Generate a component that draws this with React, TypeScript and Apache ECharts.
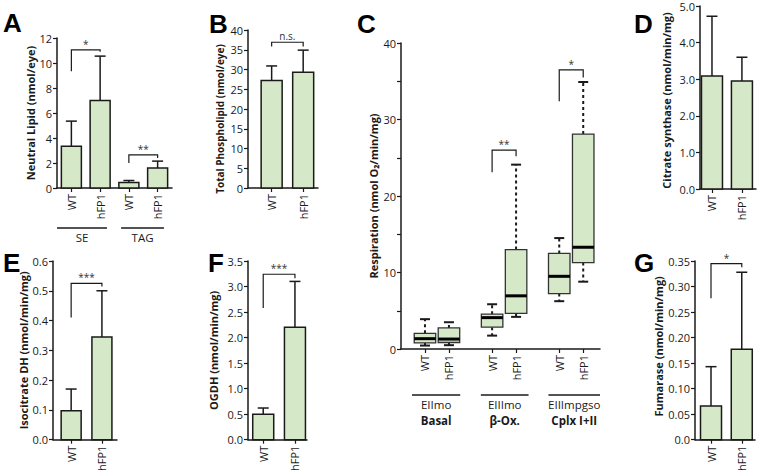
import React, { useEffect, useRef } from 'react';
import * as echarts from 'echarts';

const FONT = "'Open Sans', sans-serif";
const GREEN = '#d5e8c8';
const INK = '#1a1a1a';

// ---------- Panel A : Neutral lipid ----------
const aLabels = ['WT', 'hFP1', 'WT', 'hFP1'];
const aPos = [1, 2, 3, 4];
const aMean = [3.35, 7.0, 0.45, 1.6];
const aUpper = [5.35, 10.55, 0.6, 2.15];
const aGroupNames = ['SE', 'TAG'];
const aGroupSpans = [[0.5, 2.24], [2.73, 4.22]];
const aBrackets = [[1, 2, 11.05, 9.35, 10.9], [3, 4, 2.65, 2.0, 2.4]];
const aStars = ['*', '**'];

// ---------- Panel B : Total phospholipid ----------
const bLabels = ['WT', 'hFP1'];
const bPos = [1, 2];
const bMean = [27.2, 29.3];
const bUpper = [30.9, 34.9];
const bBrackets = [[1, 2, 36.9, 35.8, 35.8]];
const bStars = ['n.s.'];

// ---------- Panel C : Respiration (box plots) ----------
const cLabels = ['WT', 'hFP1', 'WT', 'hFP1', 'WT', 'hFP1'];
const cPos = [1, 2, 3.8, 4.8, 6.6, 7.6];
const cMin = [0.45, 0.5, 1.75, 4.2, 6.25, 8.8];
const cQ1 = [0.8, 0.85, 2.85, 4.65, 7.25, 11.3];
const cMed = [1.35, 1.3, 4.1, 6.95, 9.5, 13.3];
const cQ3 = [2.05, 2.75, 4.55, 13.0, 12.5, 28.1];
const cMax = [3.9, 3.5, 5.85, 24.1, 14.5, 34.9];
const cGroupLine1 = ['EIImo', 'EIIImo', 'EIIImpgso'];
const cGroupLine2 = ['Basal', 'β-Ox.', 'Cplx I+II'];
const cGroupSpans = [[0.46, 2.47], [3.33, 5.32], [6.15, 8.3]];
const cBrackets = [[3.8, 4.8, 26.0, 23.1, 25.2], [6.6, 7.6, 36.5, 32.4, 35.5]];
const cStars = ['**', '*'];

// ---------- Panel D : Citrate synthase ----------
const dLabels = ['WT', 'hFP1'];
const dPos = [1, 2];
const dMean = [3.09, 2.95];
const dUpper = [4.72, 3.6];

// ---------- Panel E : Isocitrate DH ----------
const eLabels = ['WT', 'hFP1'];
const ePos = [1, 2];
const eMean = [0.097, 0.345];
const eUpper = [0.17, 0.5];
const eBrackets = [[1, 2, 0.525, 0.41, 0.514]];
const eStars = ['***'];

// ---------- Panel F : OGDH ----------
const fLabels = ['WT', 'hFP1'];
const fPos = [1, 2];
const fMean = [0.5, 2.2];
const fUpper = [0.62, 3.1];
const fBrackets = [[1, 2, 3.24, 2.58, 3.16]];
const fStars = ['***'];

// ---------- Panel G : Fumarase ----------
const gLabels = ['WT', 'hFP1'];
const gPos = [1, 2];
const gMean = [0.066, 0.177];
const gUpper = [0.143, 0.328];
const gBrackets = [[1, 2, 0.345, 0.277, 0.338]];
const gStars = ['*'];

type PanelCfg = {
  grid: { left: number; top: number; width: number; height: number };
  xMin: number; xMax: number; pos: number[]; labels: string[];
  yMax: number; yInterval: number; yFmt: (v: number) => string;
  name: string; nameGap: number; nameSize: number; namePad: number[];
};

const panels: PanelCfg[] = [
  { grid: { left: 57, top: 38, width: 115, height: 150 }, xMin: 0.5, xMax: 4.5, pos: aPos, labels: aLabels,
    yMax: 12, yInterval: 2, yFmt: (v) => String(v), name: 'Neutral Lipid (nmol/eye)', nameGap: 20, nameSize: 11, namePad: [0, 0, 0, 0] },
  { grid: { left: 248, top: 30, width: 70, height: 158 }, xMin: 0.25, xMax: 2.47, pos: bPos, labels: bLabels,
    yMax: 40, yInterval: 5, yFmt: (v) => String(v), name: 'Total Phospholipid (nmol/eye)', nameGap: 23, nameSize: 10, namePad: [0, 20, 0, 0] },
  { grid: { left: 401, top: 43, width: 199, height: 306 }, xMin: 0, xMax: 8.3, pos: cPos, labels: cLabels,
    yMax: 40, yInterval: 5, yFmt: (v) => (v % 10 === 0 ? String(v) : ''), name: 'Respiration (nmol O₂/min/mg)', nameGap: 22, nameSize: 11, namePad: [0, 0, 0, 0] },
  { grid: { left: 700, top: 6, width: 56, height: 183 }, xMin: 0.6, xMax: 2.47, pos: dPos, labels: dLabels,
    yMax: 5, yInterval: 1, yFmt: (v) => v.toFixed(1), name: 'Citrate synthase (nmol/min/mg)', nameGap: 28, nameSize: 11, namePad: [0, 6, 0, 0] },
  { grid: { left: 53, top: 261, width: 64, height: 181 }, xMin: 0.41, xMax: 2.49, pos: ePos, labels: eLabels,
    yMax: 0.6, yInterval: 0.1, yFmt: (v) => v.toFixed(1), name: 'Isocitrate DH (nmol/min/mg)', nameGap: 21, nameSize: 11, namePad: [0, 0, 0, 0] },
  { grid: { left: 248, top: 261, width: 59, height: 181 }, xMin: 0.52, xMax: 2.38, pos: fPos, labels: fLabels,
    yMax: 3.5, yInterval: 0.5, yFmt: (v) => v.toFixed(1), name: 'OGDH (nmol/min/mg)', nameGap: 29, nameSize: 11, namePad: [0, 0, 0, 0] },
  { grid: { left: 695, top: 261, width: 60, height: 181 }, xMin: 0.48, xMax: 2.43, pos: gPos, labels: gLabels,
    yMax: 0.35, yInterval: 0.05, yFmt: (v) => (Math.abs(v) < 1e-9 ? '0.0' : v.toFixed(2)), name: 'Fumarase (nmol/min/mg)', nameGap: 28, nameSize: 11, namePad: [0, 0, 0, 8] },
];

const barSets = [
  { idx: 0, pos: aPos, mean: aMean, upper: aUpper, w: 20 },
  { idx: 1, pos: bPos, mean: bMean, upper: bUpper, w: 21 },
  { idx: 3, pos: dPos, mean: dMean, upper: dUpper, w: 21 },
  { idx: 4, pos: ePos, mean: eMean, upper: eUpper, w: 20 },
  { idx: 5, pos: fPos, mean: fMean, upper: fUpper, w: 21 },
  { idx: 6, pos: gPos, mean: gMean, upper: gUpper, w: 21 },
];

const bracketSets = [
  { idx: 0, data: aBrackets, text: aStars },
  { idx: 1, data: bBrackets, text: bStars },
  { idx: 2, data: cBrackets, text: cStars },
  { idx: 4, data: eBrackets, text: eStars },
  { idx: 5, data: fBrackets, text: fStars },
  { idx: 6, data: gBrackets, text: gStars },
];

const letters = [
  { t: 'A', x: 3, y: 23 }, { t: 'B', x: 209, y: 24 }, { t: 'C', x: 357, y: 24 }, { t: 'D', x: 634, y: 23.5 },
  { t: 'E', x: 3, y: 262.5 }, { t: 'F', x: 208, y: 263 }, { t: 'G', x: 634, y: 262.5 },
];

function buildOption() {
  const lineStyle = { color: INK, width: 1.5 };
  const grid = panels.map((p) => ({ ...p.grid, containLabel: false }));
  const xAxis = panels.map((p, i) => ({
    type: 'value', gridIndex: i, min: p.xMin, max: p.xMax,
    axisLine: { show: true, onZero: false, lineStyle },
    axisTick: { show: true, customValues: p.pos, length: 4, lineStyle: { color: INK, width: 1.2 } },
    axisLabel: {
      show: true, customValues: p.pos, rotate: 90, margin: 6, fontFamily: FONT, fontSize: 11, color: INK,
      formatter: (v: number) => {
        const k = p.pos.findIndex((q) => Math.abs(q - v) < 1e-6);
        return k >= 0 ? p.labels[k] : '';
      },
    },
    splitLine: { show: false },
  }));
  const yAxis = panels.map((p, i) => ({
    type: 'value', gridIndex: i, min: 0, max: p.yMax, interval: p.yInterval,
    axisLine: { show: true, lineStyle },
    axisTick: { show: true, length: 4, lineStyle: { color: INK, width: 1.2 } },
    axisLabel: { fontFamily: FONT, fontSize: 11, color: INK, margin: 5, formatter: p.yFmt },
    splitLine: { show: false },
    name: p.name, nameLocation: 'middle', nameGap: p.nameGap,
    nameTextStyle: { fontFamily: FONT, fontWeight: 'bold', fontSize: p.nameSize, color: INK, padding: p.namePad },
  }));

  const series: any[] = [];
  // Bars with error bars (mean + upper SD)
  barSets.forEach((b) => {
    series.push({
      type: 'custom', xAxisIndex: b.idx, yAxisIndex: b.idx, clip: false, z: 3,
      data: b.pos.map((x, i) => [x, b.mean[i], b.upper[i]]),
      renderItem: (params: any, api: any) => {
        const x = api.value(0);
        const base = api.coord([x, 0]);
        const top = api.coord([x, api.value(1)]);
        const up = api.coord([x, api.value(2)]);
        const hw = b.w / 2;
        return {
          type: 'group', children: [
            { type: 'line', shape: { x1: top[0], y1: top[1], x2: up[0], y2: up[1] }, style: { stroke: INK, lineWidth: 1.5 } },
            { type: 'line', shape: { x1: up[0] - 5.5, y1: up[1], x2: up[0] + 5.5, y2: up[1] }, style: { stroke: INK, lineWidth: 1.5 } },
            { type: 'rect', shape: { x: base[0] - hw, y: top[1], width: b.w, height: base[1] - top[1] },
              style: { fill: GREEN, stroke: INK, lineWidth: 1.5 } },
          ],
        };
      },
    });
  });

  // Box plots (panel C)
  series.push({
    type: 'custom', xAxisIndex: 2, yAxisIndex: 2, clip: false, z: 3,
    data: cPos.map((x, i) => [x, cMin[i], cQ1[i], cMed[i], cQ3[i], cMax[i]]),
    renderItem: (params: any, api: any) => {
      const x = api.value(0);
      const pMin = api.coord([x, api.value(1)]);
      const pQ1 = api.coord([x, api.value(2)]);
      const pMed = api.coord([x, api.value(3)]);
      const pQ3 = api.coord([x, api.value(4)]);
      const pMax = api.coord([x, api.value(5)]);
      const hw = 10.75;
      const cx = pQ1[0];
      const dash = { stroke: INK, lineWidth: 2, lineDash: [3, 3] };
      return {
        type: 'group', children: [
          { type: 'line', shape: { x1: cx, y1: pQ3[1], x2: cx, y2: pMax[1] }, style: dash },
          { type: 'line', shape: { x1: cx, y1: pQ1[1], x2: cx, y2: pMin[1] }, style: dash },
          { type: 'line', shape: { x1: cx - 5, y1: pMax[1], x2: cx + 5, y2: pMax[1] }, style: { stroke: INK, lineWidth: 2 } },
          { type: 'line', shape: { x1: cx - 5, y1: pMin[1], x2: cx + 5, y2: pMin[1] }, style: { stroke: INK, lineWidth: 2 } },
          { type: 'rect', shape: { x: cx - hw, y: pQ3[1], width: hw * 2, height: pQ1[1] - pQ3[1] }, style: { fill: GREEN, stroke: '#333', lineWidth: 1.3 } },
          { type: 'line', shape: { x1: cx - hw, y1: pMed[1], x2: cx + hw, y2: pMed[1] }, style: { stroke: '#000', lineWidth: 3 } },
        ],
      };
    },
  });

  // Significance brackets
  bracketSets.forEach((b) => {
    series.push({
      type: 'custom', xAxisIndex: b.idx, yAxisIndex: b.idx, clip: false, z: 4,
      data: b.data,
      renderItem: (params: any, api: any) => {
        const x1 = api.value(0), x2 = api.value(1), yt = api.value(2), yl = api.value(3), yr = api.value(4);
        const pL = api.coord([x1, yl]);
        const pT1 = api.coord([x1, yt]);
        const pT2 = api.coord([x2, yt]);
        const pR = api.coord([x2, yr]);
        return {
          type: 'group', children: [
            { type: 'polyline', shape: { points: [pL, pT1, pT2, pR] }, style: { stroke: INK, lineWidth: 1.2, fill: 'none' } },
            { type: 'text', x: (pT1[0] + pT2[0]) / 2, y: pT1[1] - 1,
              style: { text: b.text[params.dataIndex], fontSize: 10, fontFamily: FONT, fill: '#333', align: 'center', verticalAlign: 'bottom' } },
          ],
        };
      },
    });
  });

  // Group labels under panel A
  series.push({
    type: 'custom', xAxisIndex: 0, yAxisIndex: 0, clip: false, z: 4,
    data: aGroupSpans,
    renderItem: (params: any, api: any) => {
      const a = api.coord([api.value(0), 0]);
      const b = api.coord([api.value(1), 0]);
      const y = a[1] + 40;
      return {
        type: 'group', children: [
          { type: 'line', shape: { x1: a[0], y1: y, x2: b[0], y2: y }, style: { stroke: INK, lineWidth: 1.5 } },
          { type: 'text', x: (a[0] + b[0]) / 2, y: y + 3,
            style: { text: aGroupNames[params.dataIndex], fontSize: 11.5, fontFamily: FONT, fill: INK, align: 'center', verticalAlign: 'top' } },
        ],
      };
    },
  });

  // Group labels under panel C
  series.push({
    type: 'custom', xAxisIndex: 2, yAxisIndex: 2, clip: false, z: 4,
    data: cGroupSpans,
    renderItem: (params: any, api: any) => {
      const a = api.coord([api.value(0), 0]);
      const b = api.coord([api.value(1), 0]);
      const y = a[1] + 46;
      const cx = (a[0] + b[0]) / 2;
      return {
        type: 'group', children: [
          { type: 'line', shape: { x1: a[0], y1: y, x2: b[0], y2: y }, style: { stroke: INK, lineWidth: 1.5 } },
          { type: 'text', x: cx, y: y + 3,
            style: { text: cGroupLine1[params.dataIndex], fontSize: 11.5, fontFamily: FONT, fill: INK, align: 'center', verticalAlign: 'top' } },
          { type: 'text', x: cx, y: y + 19,
            style: { text: cGroupLine2[params.dataIndex], fontSize: 11.5, fontWeight: 'bold', fontFamily: FONT, fill: INK, align: 'center', verticalAlign: 'top' } },
        ],
      };
    },
  });

  const graphic = letters.map((l) => ({
    type: 'text', x: l.x, y: l.y,
    style: { text: l.t, fontSize: 26, fontWeight: 'bold', fontFamily: "'Liberation Sans', Arial, sans-serif", fill: '#000', verticalAlign: 'middle', align: 'left' },
  }));

  return { animation: false, backgroundColor: '#fff', grid, xAxis, yAxis, series, graphic };
}

export default function App() {
  const ref = useRef<HTMLDivElement>(null);
  useEffect(() => {
    const chart = echarts.init(ref.current as HTMLDivElement, null, { renderer: 'svg' });
    chart.setOption(buildOption() as any);
    return () => chart.dispose();
  }, []);
  return <div ref={ref} style={{ position: 'fixed', left: 0, top: 0, width: 760, height: 474, background: '#fff' }} />;
}
